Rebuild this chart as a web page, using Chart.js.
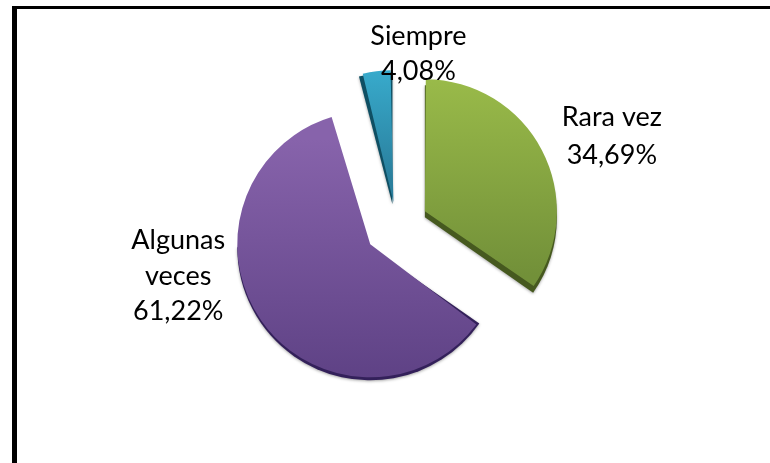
<!DOCTYPE html>
<html>
<head>
<meta charset="utf-8">
<style>
html,body{margin:0;padding:0;background:#fff;overflow:hidden}
#wrap{position:relative;width:770px;height:463px}
#frameTop{position:absolute;left:12px;top:6px;right:0;height:3px;background:#000}
#frameLeft{position:absolute;left:12px;top:6px;bottom:0;width:5px;background:#000}
canvas{position:absolute;left:0;top:0}
</style>
</head>
<body>
<div id="wrap">
<canvas id="c" width="770" height="463"></canvas>
<div id="frameTop"></div>
<div id="frameLeft"></div>
</div>
<script src="https://cdn.jsdelivr.net/npm/chart.js@4"></script>
<script>
const categories = ["Rara vez", "Algunas veces", "Siempre"];
const values = [34.69, 61.22, 4.08];
const percentLabels = ["34,69%", "61,22%", "4,08%"];

const labelLines = [
  [categories[0], percentLabels[0]],
  ["Algunas", "veces", percentLabels[1]],
  [categories[2], percentLabels[2]]
];
// explode distance in px for each slice; Chart.js moves a slice by offset / 4
const explode = [32, 32, 24];
const sliceRadius = [132, 133, 132];
// centre of the first text line, relative to each slice's apex
const labelShift = [[187, -94], [-192, -4], [25, -166]];
const lineHeights = [38, 35.5, 35];
const sideDepth = [[0, 6], [0, 3], [-1, 2]];
const sideColors = ["#46591f", "#33205a", "#0f4f63"];
const gradients = [
  [85, 290, "#9bbc4a", "#729039"],
  [121, 380, "#8763ab", "#5b3f82"],
  [70, 202, "#3bb4d6", "#2a7f9d"]
];

const sliceFill = c => {
  const g = gradients[c.dataIndex];
  const lin = c.chart.ctx.createLinearGradient(0, g[0], 0, g[1]);
  lin.addColorStop(0, g[2]);
  lin.addColorStop(1, g[3]);
  return lin;
};

const apexOf = (arc, i) => {
  const mid = (arc.startAngle + arc.endAngle) / 2;
  return { x: arc.x + Math.cos(mid) * explode[i], y: arc.y + Math.sin(mid) * explode[i] };
};

const depthPlugin = {
  id: "depth",
  afterDatasetUpdate(chart) {
    // Chart.js enlarges exploded arcs when drawing; cancel this so each slice keeps its radius
    chart.getDatasetMeta(0).data.forEach((arc, i) => {
      const fix = 1 - Math.sin(Math.min(Math.PI, arc.circumference));
      arc.outerRadius = sliceRadius[i] - explode[i] * fix;
    });
  },
  beforeDatasetsDraw(chart) {
    const ctx = chart.ctx;
    chart.getDatasetMeta(0).data.forEach((arc, i) => {
      const a = apexOf(arc, i);
      const [dx, dy] = sideDepth[i];
      // the side wall only shows on the lower half of the rim
      const end = arc.startAngle < Math.PI && arc.endAngle > Math.PI ? Math.PI : arc.endAngle;
      ctx.save();
      ctx.shadowColor = "rgba(0,0,0,0.35)";
      ctx.shadowBlur = 3;
      ctx.shadowOffsetY = 1;
      ctx.fillStyle = sideColors[i];
      ctx.beginPath();
      ctx.moveTo(a.x + dx, a.y + dy);
      ctx.arc(a.x + dx, a.y + dy, sliceRadius[i], arc.startAngle, end);
      ctx.closePath();
      ctx.fill();
      ctx.restore();
    });
  }
};

const labelPlugin = {
  id: "sliceLabels",
  afterDatasetsDraw(chart) {
    const ctx = chart.ctx;
    ctx.save();
    ctx.font = '27px Lato, "Open Sans", sans-serif';
    ctx.fillStyle = "#000";
    ctx.textAlign = "center";
    ctx.textBaseline = "middle";
    chart.getDatasetMeta(0).data.forEach((arc, i) => {
      const a = apexOf(arc, i);
      labelLines[i].forEach((line, k) => {
        ctx.fillText(line, a.x + labelShift[i][0], a.y + labelShift[i][1] + k * lineHeights[i]);
      });
    });
    ctx.restore();
  }
};

new Chart(document.getElementById("c"), {
  type: "pie",
  data: {
    labels: categories,
    datasets: [{
      data: values,
      backgroundColor: sliceFill,
      borderWidth: 0,
      offset: explode.map(d => d * 4),
      radius: 132
    }]
  },
  options: {
    responsive: false,
    animation: false,
    layout: { padding: { left: 23, bottom: 11 } },
    plugins: { legend: { display: false }, tooltip: { enabled: false }, title: { display: false } }
  },
  plugins: [depthPlugin, labelPlugin]
});
</script>
</body>
</html>
